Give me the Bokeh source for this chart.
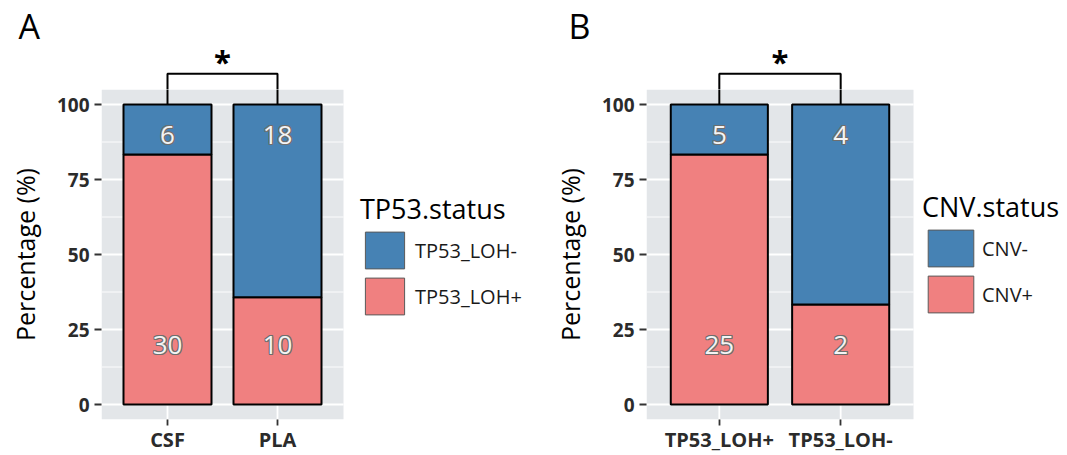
import pandas as pd
from bokeh.plotting import figure
from bokeh.models import (Range1d, FixedTicker, Legend, LegendItem,
                          ColumnDataSource)
from bokeh.layouts import row, column
from bokeh.embed import file_html
from bokeh.resources import INLINE
from bokeh.core.properties import value

# ---------------- data ----------------
a_letter = "A"
a_categories = ["CSF", "PLA"]
a_status = ["TP53_LOH+", "TP53_LOH-"]
a_pos_counts = [30, 10]   # TP53_LOH+
a_neg_counts = [6, 18]    # TP53_LOH-
a_legend_title = "TP53.status"

b_letter = "B"
b_categories = ["TP53_LOH+", "TP53_LOH-"]
b_status = ["CNV+", "CNV-"]
b_pos_counts = [25, 2]    # CNV+
b_neg_counts = [5, 4]     # CNV-
b_legend_title = "CNV.status"

y_ticks = [0, 25, 50, 75, 100]
y_label = "Percentage (%)"
significance = "*"

# ---------------- style / layout ----------------
PINK = "#F08080"
BLUE = "#4682B4"
PANEL = "#E3E6E9"
FONT = "Open Sans"
Y0, Y1 = -5, 105      # panel extent (percent)
H = 455               # total height
HS = 89               # height of the strip above the panel (letter, bracket)
MB_TOP = 44           # space for the panel letter
MB_BOTTOM = 36        # x axis
PXY = (H - HS - MB_BOTTOM) / (Y1 - Y0)   # pixels per percent
BRACKET_Y = 110.8
STAR_OFFSET = 4.5
POS_LAB_Y = 20
NEG_LAB_Y = 90


def base_fig(width, height, x_range, y_range, mb_left, mb_top, mb_bottom,
             **kw):
    p = figure(width=width, height=height, x_range=x_range, y_range=y_range,
               output_backend="svg", toolbar_location=None,
               min_border_left=mb_left, min_border_right=0,
               min_border_top=mb_top, min_border_bottom=mb_bottom,
               background_fill_color="white", border_fill_color="white",
               outline_line_color=None, **kw)
    p.grid.visible = False
    return p


def make_panel(letter, cats, pos, neg, status, legend_title, width,
               mb_left, panel_w, key_w, key_h, letter_offset, legend_loc,
               title_size, label_standoff):
    n = len(cats)
    xs = list(range(1, n + 1))
    df = pd.DataFrame({"x": xs, "pos": pos, "neg": neg})
    df["total"] = df["pos"] + df["neg"]
    df["pos_pct"] = 100 * df["pos"] / df["total"]
    df["neg_top"] = 100 * (df["pos"] + df["neg"]) / df["total"]
    df["pos_lab"] = df["pos"].astype(str)
    df["neg_lab"] = df["neg"].astype(str)
    df["pos_y"] = POS_LAB_Y
    df["neg_y"] = NEG_LAB_Y
    src = ColumnDataSource(df)

    x0, x1 = 0.4, n + 0.6
    pxu = panel_w / (x1 - x0)
    frame_w = width - mb_left
    xr = Range1d(x0, x0 + frame_w / pxu)

    # ---------- strip above the panel: letter, bracket, asterisk ----------
    s = base_fig(width, HS, xr, Range1d(Y1, Y1 + (HS - MB_TOP) / PXY),
                 mb_left, MB_TOP, 0, x_axis_type=None, y_axis_type=None,
                 title=letter)
    s.title.align = "left"
    s.title.offset = letter_offset
    s.title.text_font = FONT
    s.title.text_font_size = "34px"
    s.title.text_font_style = "normal"
    s.title.text_color = "black"
    s.title.standoff = 0

    # ---------- main panel ----------
    p = base_fig(width, H - HS, xr, Range1d(Y0, Y1), mb_left, 0, MB_BOTTOM,
                 title=None)

    # legend key renderers (hidden below the panel background)
    key_neg = p.vbar(x="x", bottom="pos_pct", top="neg_top", width=0.8,
                     source=src, fill_color=BLUE, line_color="#5a5a5a",
                     line_width=1, level="underlay")
    key_pos = p.vbar(x="x", bottom=0, top="pos_pct", width=0.8, source=src,
                     fill_color=PINK, line_color="#5a5a5a", line_width=1,
                     level="underlay")

    # panel background and grid
    p.quad(left=[x0], right=[x1], bottom=[Y0], top=[Y1],
           fill_color=PANEL, line_color=None)
    minor = [(a + b) / 2 for a, b in zip(y_ticks[:-1], y_ticks[1:])]
    p.segment(x0=[x0] * len(minor), x1=[x1] * len(minor), y0=minor, y1=minor,
              line_color="white", line_width=0.9)
    p.segment(x0=[x0] * len(y_ticks), x1=[x1] * len(y_ticks), y0=y_ticks,
              y1=y_ticks, line_color="white", line_width=1.8)
    p.segment(x0=xs, x1=xs, y0=[Y0] * n, y1=[Y1] * n,
              line_color="white", line_width=1.8)

    # bars
    p.vbar(x="x", bottom=0, top="pos_pct", width=0.8, source=src,
           fill_color=PINK, line_color="black", line_width=2)
    p.vbar(x="x", bottom="pos_pct", top="neg_top", width=0.8, source=src,
           fill_color=BLUE, line_color="black", line_width=2)

    # count labels (outlined text)
    for col_t, col_y in (("pos_lab", "pos_y"), ("neg_lab", "neg_y")):
        for dx, dy in ((-1, 0), (1, 0), (0, -1), (0, 1),
                       (-1, -1), (1, 1), (-1, 1), (1, -1)):
            p.text(x="x", y=col_y, text=col_t, source=src, x_offset=dx,
                   y_offset=dy, text_align="center", text_baseline="middle",
                   text_font=value(FONT), text_font_size="26px",
                   text_color="#6e6e6e")
        p.text(x="x", y=col_y, text=col_t, source=src, text_align="center",
               text_baseline="middle", text_font=value(FONT),
               text_font_size="26px", text_color="#f4f4f4")

    # significance bracket (drawn in both, each clipped to its own frame)
    for fig in (s, p):
        fig.line(x=[xs[0], xs[0], xs[-1], xs[-1]],
                 y=[100, BRACKET_Y, BRACKET_Y, 100],
                 line_color="black", line_width=2)
    s.text(x=[(xs[0] + xs[-1]) / 2], y=[BRACKET_Y + STAR_OFFSET],
           text=[significance], text_align="center",
           text_baseline="alphabetic", text_font=value(FONT),
           text_font_size="31px", text_font_style="bold", text_color="black")

    # axes
    p.yaxis.ticker = FixedTicker(ticks=y_ticks)
    p.yaxis.axis_label = y_label
    p.yaxis.axis_label_text_font = FONT
    p.yaxis.axis_label_text_font_size = "25px"
    p.yaxis.axis_label_text_font_style = "normal"
    p.yaxis.axis_label_text_color = "black"
    p.yaxis.axis_label_standoff = 12
    p.xaxis.ticker = FixedTicker(ticks=xs)
    p.xaxis.major_label_overrides = {x: c for x, c in zip(xs, cats)}
    for ax in (p.xaxis, p.yaxis):
        ax.axis_line_color = None
        ax.minor_tick_line_color = None
        ax.major_tick_in = 0
        ax.major_tick_out = 7
        ax.major_tick_line_color = "#333333"
        ax.major_tick_line_width = 1.8
        ax.major_label_text_font = FONT
        ax.major_label_text_font_size = "19px"
        ax.major_label_text_font_style = "bold"
        ax.major_label_text_color = "#2b2b2b"
        ax.major_label_standoff = 5
    p.xaxis.major_tick_out = 6
    p.xaxis.major_label_standoff = 0
    p.xaxis.major_label_text_font_size = "20px"

    legend = Legend(items=[LegendItem(label=status[1], renderers=[key_neg]),
                           LegendItem(label=status[0], renderers=[key_pos])],
                    title=legend_title, location=legend_loc,
                    orientation="vertical")
    legend.title_text_font = FONT
    legend.title_text_font_size = title_size
    legend.title_text_font_style = "normal"
    legend.title_text_color = "black"
    legend.title_standoff = 0
    legend.label_text_font = FONT
    legend.label_text_font_size = "20px"
    legend.label_text_color = "#1a1a1a"
    legend.glyph_width = key_w
    legend.glyph_height = key_h
    legend.label_height = key_h
    legend.spacing = 0
    legend.label_standoff = label_standoff
    legend.padding = 0
    legend.margin = 0
    legend.border_line_color = None
    legend.background_fill_alpha = 0
    p.add_layout(legend, "center")
    return column(s, p)


pA = make_panel(a_letter, a_categories, a_pos_counts, a_neg_counts, a_status,
                a_legend_title, 546, 101, 242, 49, 46, -83, (259, 100),
                "27px", 6)
pB = make_panel(b_letter, b_categories, b_pos_counts, b_neg_counts, b_status,
                b_legend_title, 518, 100, 267, 57, 46, -78, (276, 102),
                "27px", 3)

layout = row(pA, pB)
open("out.html", "w").write(file_html(layout, INLINE))
